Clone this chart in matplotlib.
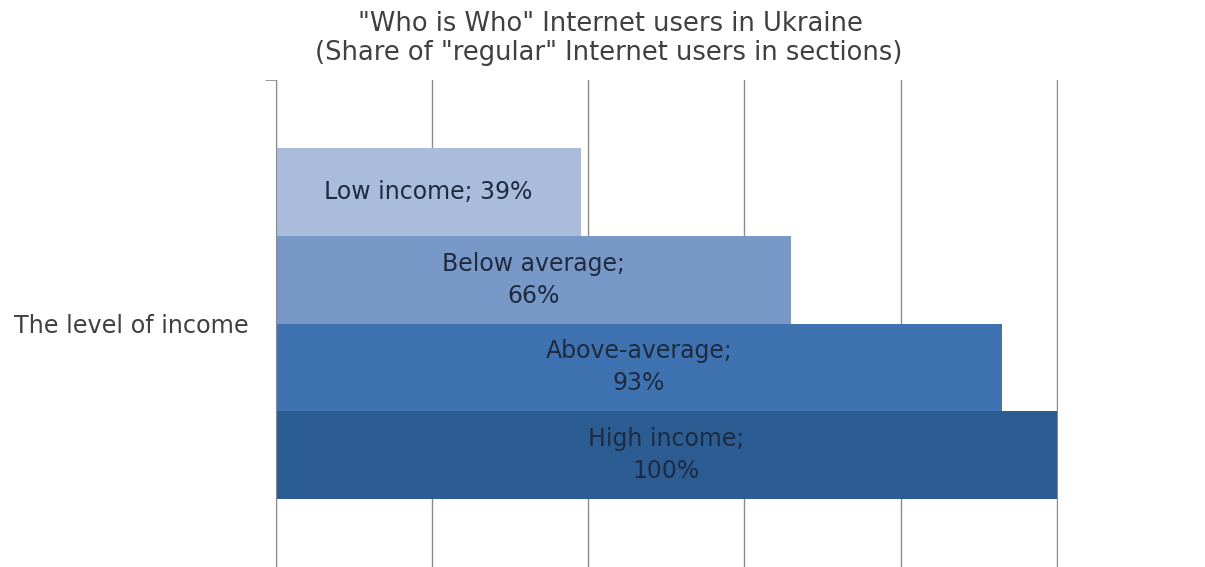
import matplotlib.pyplot as plt

# Data
categories = ["Low income", "Below average", "Above-average", "High income"]
values = [39, 66, 93, 100]
bar_labels = ["Low income; 39%", "Below average;\n66%", "Above-average;\n93%", "High income;\n100%"]
group_label = "The level of income"
colors = ["#a9bcdb", "#7898c8", "#3e72b0", "#2b5c92"]

plt.rcParams["font.family"] = ["DejaVu Sans"]

fig = plt.figure(figsize=(12.05, 5.67), dpi=100)
ax = fig.add_axes([276 / 1205, 0.0, (1058 - 276) / 1205, 1 - 80 / 567])

positions = list(range(len(values)))
ax.barh(positions, values, height=1.0, color=colors, zorder=2)

for pos, val, lab in zip(positions, values, bar_labels):
    ax.text(val / 2, pos, lab, ha="center", va="center", fontsize=17,
            color="#1f2b40", linespacing=1.42, zorder=3)

ax.set_xlim(0, 100.15)
ax.set_ylim(4.27, -1.27)
ax.set_xticks(range(0, 101, 20))
ax.tick_params(axis="x", length=0, labelbottom=False)
ax.grid(axis="x", color="#8a8a8a", linewidth=1.0, zorder=1)

# one category on the y axis, with a boundary tick at the top
ax.set_yticks([1.5])
ax.set_yticklabels([group_label], fontsize=17.2, color="#404040")
ax.tick_params(axis="y", which="major", length=0, pad=20)
ax.set_yticks([-1.27], minor=True)
ax.tick_params(axis="y", which="minor", length=8, color="#8a8a8a")

for side in ["top", "right", "bottom"]:
    ax.spines[side].set_visible(False)
ax.spines["left"].set_color("#8a8a8a")

fig.text(610 / 1205, 1 - 24 / 567, '"Who is Who" Internet users in Ukraine', ha="center",
         va="center", fontsize=18.5, color="#404040")
fig.text(609 / 1205, 1 - 53 / 567, '(Share of "regular" Internet users in sections)', ha="center",
         va="center", fontsize=18.5, color="#404040")

fig.savefig("out.png", dpi=100)
